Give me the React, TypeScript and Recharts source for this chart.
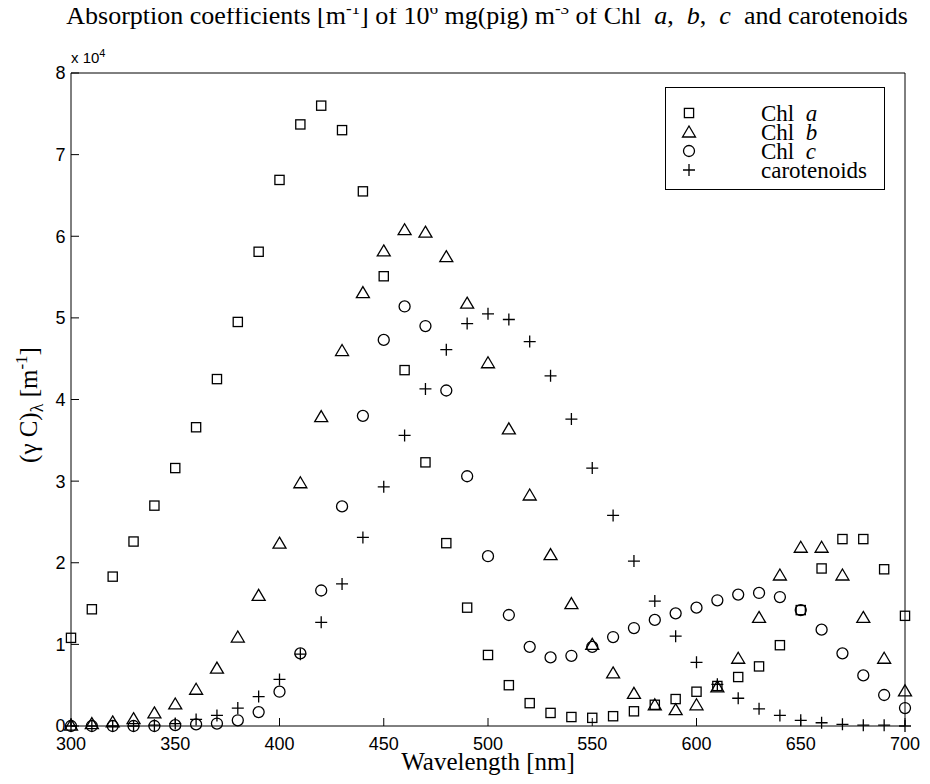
import React from 'react';
import { ScatterChart, Scatter, XAxis, YAxis, Legend } from 'recharts';

// Wavelength [nm]
const wavelengths = [
  300, 310, 320, 330, 340, 350, 360, 370, 380, 390,
  400, 410, 420, 430, 440, 450, 460, 470, 480, 490,
  500, 510, 520, 530, 540, 550, 560, 570, 580, 590,
  600, 610, 620, 630, 640, 650, 660, 670, 680, 690, 700,
];

// Absorption coefficients in units of 10^4 m^-1
const chlA = [
  1.08, 1.43, 1.83, 2.26, 2.70, 3.16, 3.66, 4.25, 4.95, 5.81,
  6.69, 7.37, 7.60, 7.30, 6.55, 5.51, 4.36, 3.23, 2.24, 1.45,
  0.87, 0.50, 0.28, 0.16, 0.11, 0.10, 0.12, 0.18, 0.26, 0.33,
  0.42, 0.49, 0.60, 0.73, 0.99, 1.42, 1.93, 2.29, 2.29, 1.92, 1.35,
];
const chlB = [
  0.01, 0.03, 0.05, 0.09, 0.16, 0.27, 0.45, 0.71, 1.09, 1.60,
  2.24, 2.98, 3.79, 4.60, 5.31, 5.82, 6.08, 6.05, 5.75, 5.18,
  4.45, 3.64, 2.83, 2.10, 1.50, 1.00, 0.65, 0.40, 0.26, 0.20,
  0.26, 0.48, 0.83, 1.33, 1.85, 2.19, 2.19, 1.85, 1.33, 0.83, 0.43,
];
const chlC = [
  0.00, 0.00, 0.00, 0.00, 0.00, 0.01, 0.02, 0.03, 0.07, 0.17,
  0.42, 0.89, 1.66, 2.69, 3.80, 4.73, 5.14, 4.90, 4.11, 3.06,
  2.08, 1.36, 0.97, 0.84, 0.86, 0.97, 1.09, 1.20, 1.30, 1.38,
  1.45, 1.54, 1.61, 1.63, 1.58, 1.42, 1.18, 0.89, 0.62, 0.38, 0.22,
];
const carotenoids = [
  0.00, 0.00, 0.00, 0.00, 0.01, 0.03, 0.08, 0.13, 0.22, 0.36,
  0.57, 0.88, 1.27, 1.74, 2.31, 2.93, 3.56, 4.13, 4.61, 4.93,
  5.05, 4.98, 4.71, 4.29, 3.76, 3.16, 2.58, 2.02, 1.53, 1.10,
  0.78, 0.51, 0.34, 0.21, 0.13, 0.07, 0.04, 0.02, 0.01, 0.01, 0.00,
];

const xTicks = [300, 350, 400, 450, 500, 550, 600, 650, 700];
const yTicks = [0, 1, 2, 3, 4, 5, 6, 7, 8];

const toPoints = (vals: number[]) => wavelengths.map((w, i) => ({ x: w, y: vals[i] }));

const SANS = '"Liberation Sans", Arial, Helvetica, sans-serif';
const SERIF = '"Liberation Serif", "Times New Roman", Times, serif';
const INK = '#000';
const SW = 1.3;
const TICK = 8;
const NB = '\u00A0';

const SquareMarker = ({ cx, cy }: any) => (
  <rect x={cx - 4.6} y={cy - 4.6} width={9.2} height={9.2} fill="none" stroke={INK} strokeWidth={SW} />
);
const TriangleMarker = ({ cx, cy }: any) => (
  <polygon
    points={`${cx},${cy - 6} ${cx + 6.5},${cy + 5} ${cx - 6.5},${cy + 5}`}
    fill="none"
    stroke={INK}
    strokeWidth={SW}
  />
);
const CircleMarker = ({ cx, cy }: any) => (
  <circle cx={cx} cy={cy} r={5.5} fill="none" stroke={INK} strokeWidth={SW} />
);
const PlusMarker = ({ cx, cy }: any) => (
  <path d={`M${cx - 6},${cy} H${cx + 6} M${cx},${cy - 6} V${cy + 6}`} fill="none" stroke={INK} strokeWidth={SW} />
);

const BottomTick = ({ x, y, payload }: any) => (
  <g>
    <line x1={x} y1={y} x2={x} y2={y - TICK} stroke={INK} strokeWidth={1} />
    <text x={x} y={y + 24} textAnchor="middle" fontFamily={SANS} fontSize={18} fill={INK}>
      {payload.value}
    </text>
  </g>
);
const TopTick = ({ x, y }: any) => (
  <line x1={x} y1={y} x2={x} y2={y + TICK} stroke={INK} strokeWidth={1} />
);
const LeftTick = ({ x, y, payload }: any) => (
  <g>
    <line x1={x} y1={y} x2={x + TICK} y2={y} stroke={INK} strokeWidth={1} />
    <text x={x - 5.5} y={y} dy="0.36em" textAnchor="end" fontFamily={SANS} fontSize={18} fill={INK}>
      {payload.value}
    </text>
  </g>
);
const RightTick = ({ x, y }: any) => (
  <line x1={x} y1={y} x2={x - TICK} y2={y} stroke={INK} strokeWidth={1} />
);

const legendRows = [
  { label: 'Chl' + NB + NB, italic: 'a', Marker: SquareMarker },
  { label: 'Chl' + NB + NB, italic: 'b', Marker: TriangleMarker },
  { label: 'Chl' + NB + NB, italic: 'c', Marker: CircleMarker },
  { label: 'carotenoids', italic: '', Marker: PlusMarker },
];

const LEG_W = 220;
const LEG_H = 103;

const LegendBox = () => (
  <svg width={LEG_W} height={LEG_H} style={{ display: 'block' }}>
    <rect x={0.5} y={0.5} width={LEG_W - 1} height={LEG_H - 1} fill="#fff" stroke={INK} strokeWidth={1} />
    {legendRows.map((r, i) => {
      const cy = 26 + i * 19;
      const M = r.Marker;
      return (
        <g key={i}>
          <M cx={24} cy={cy} />
          <text x={96} y={cy + 8} fontFamily={SERIF} fontSize={23} fill={INK}>
            {r.label}
            {r.italic ? <tspan fontStyle="italic">{r.italic}</tspan> : null}
          </text>
        </g>
      );
    })}
  </svg>
);

const SUP = 17;
const W = 930;
const H = 784;

export default function App() {
  return (
    <div style={{ position: 'relative', width: W, height: H, margin: -8 }}>
      <ScatterChart
        width={W}
        height={H}
        margin={{ top: 72, right: 24, bottom: 18, left: 11 }}
      >
        <XAxis
          xAxisId="bottom"
          dataKey="x"
          type="number"
          orientation="bottom"
          domain={[300, 700]}
          ticks={xTicks}
          interval={0}
          height={40}
          tickSize={0}
          tickMargin={0}
          tickLine={false}
          axisLine={{ stroke: INK, strokeWidth: 1 }}
          tick={BottomTick}
        />
        <XAxis
          xAxisId="top"
          dataKey="x"
          type="number"
          orientation="top"
          domain={[300, 700]}
          ticks={xTicks}
          interval={0}
          height={1}
          tickSize={0}
          tickMargin={0}
          tickLine={false}
          axisLine={{ stroke: INK, strokeWidth: 1 }}
          tick={TopTick}
        />
        <YAxis
          yAxisId="left"
          dataKey="y"
          type="number"
          orientation="left"
          domain={[0, 8]}
          ticks={yTicks}
          interval={0}
          width={60}
          tickSize={0}
          tickMargin={0}
          tickLine={false}
          axisLine={{ stroke: INK, strokeWidth: 1 }}
          tick={LeftTick}
        />
        <YAxis
          yAxisId="right"
          dataKey="y"
          type="number"
          orientation="right"
          domain={[0, 8]}
          ticks={yTicks}
          interval={0}
          width={1}
          tickSize={0}
          tickMargin={0}
          tickLine={false}
          axisLine={{ stroke: INK, strokeWidth: 1 }}
          tick={RightTick}
        />
        <Scatter
          name="Chl a"
          data={toPoints(chlA)}
          xAxisId="bottom"
          yAxisId="left"
          shape={SquareMarker}
          isAnimationActive={false}
        />
        <Scatter
          name="Chl b"
          data={toPoints(chlB)}
          xAxisId="bottom"
          yAxisId="left"
          shape={TriangleMarker}
          isAnimationActive={false}
        />
        <Scatter
          name="Chl c"
          data={toPoints(chlC)}
          xAxisId="bottom"
          yAxisId="left"
          shape={CircleMarker}
          isAnimationActive={false}
        />
        <Scatter
          name="carotenoids"
          data={toPoints(carotenoids)}
          xAxisId="bottom"
          yAxisId="left"
          shape={PlusMarker}
          isAnimationActive={false}
        />
        <Legend
          layout="vertical"
          align="center"
          verticalAlign="middle"
          content={() => <LegendBox />}
          wrapperStyle={{ left: 665, top: 87, width: LEG_W, height: LEG_H, margin: 0, padding: 0 }}
        />
      </ScatterChart>

      <svg
        width={W}
        height={H}
        style={{ position: 'absolute', left: 0, top: 0, overflow: 'visible', pointerEvents: 'none' }}
      >
        <text x={487} y={24} textAnchor="middle" fontFamily={SERIF} fontSize={26} fill={INK}>
          {'Absorption coefficients [m'}
          <tspan dy={-10} fontSize={SUP}>{'-1'}</tspan>
          <tspan dy={10}>{'] of 10'}</tspan>
          <tspan dy={-10} fontSize={SUP}>{'6'}</tspan>
          <tspan dy={10}>{' mg(pig) m'}</tspan>
          <tspan dy={-10} fontSize={SUP}>{'-3'}</tspan>
          <tspan dy={10}>{' of Chl' + NB + NB}</tspan>
          <tspan fontStyle="italic">{'a'}</tspan>
          <tspan>{',' + NB + NB}</tspan>
          <tspan fontStyle="italic">{'b'}</tspan>
          <tspan>{',' + NB + NB}</tspan>
          <tspan fontStyle="italic">{'c'}</tspan>
          <tspan>{NB + NB + 'and carotenoids'}</tspan>
        </text>

        <text x={71} y={63} fontFamily={SANS} fontSize={15} fill={INK}>
          {'x 10'}
          <tspan dy={-6} fontSize={11}>{'4'}</tspan>
        </text>

        <text
          transform="rotate(-90)"
          x={-405}
          y={37}
          textAnchor="middle"
          fontFamily={SERIF}
          fontSize={25}
          fill={INK}
        >
          {'(\u03B3 C)'}
          <tspan dy={6} fontSize={18}>{'\u03BB'}</tspan>
          <tspan dy={-6}>{' [m'}</tspan>
          <tspan dy={-10} fontSize={SUP}>{'-1'}</tspan>
          <tspan dy={10}>{']'}</tspan>
        </text>

        <text x={488} y={770} textAnchor="middle" fontFamily={SERIF} fontSize={25} fill={INK}>
          {'Wavelength [nm]'}
        </text>
      </svg>
    </div>
  );
}
